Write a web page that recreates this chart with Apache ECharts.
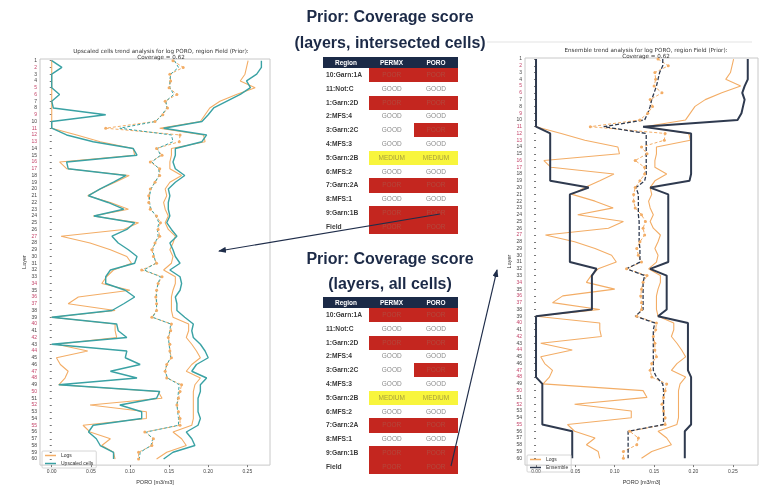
<!DOCTYPE html>
<html>
<head>
<meta charset="utf-8">
<script src="https://cdn.jsdelivr.net/npm/echarts@6/dist/echarts.min.js"></script>
<style>
html, body { margin: 0; padding: 0; background: #fff; }
#wrap { position: relative; width: 771px; height: 490px; overflow: hidden; font-family: "Liberation Sans", Arial, sans-serif; }
#chart { position: absolute; left: 0; top: 0; width: 771px; height: 490px; }
.big { position: absolute; left: 240px; width: 300px; text-align: center; font-size: 16px; font-weight: bold; color: #1c2a47; line-height: 18px; white-space: nowrap; }
.hd { position: absolute; background: #1b2a47; }
.hdt { position: absolute; color: #fff; font-weight: bold; font-size: 6.5px; text-align: center; line-height: 11px; height: 11px; }
.reg { position: absolute; font-weight: bold; font-size: 6.7px; color: #3a3a3a; line-height: 13.8px; height: 13.8px; white-space: nowrap; }
.cell { position: absolute; font-size: 6.5px; text-align: center; line-height: 13.8px; height: 13.8px; color: #8c8c8c; }
svg { position: absolute; left: 0; top: 0; }
</style>
</head>
<body>
<div id="wrap">
  <div id="chart"></div>
  <div class="big" style="top:8px">Prior: Coverage score</div>
  <div class="big" style="top:34px">(layers, intersected cells)</div>
  <div class="big" style="top:250px">Prior: Coverage score</div>
  <div class="big" style="top:275px">(layers, all cells)</div>
  <div id="tables"></div>
  <svg width="771" height="490">
    <defs>
      <marker id="ah" markerWidth="8" markerHeight="6" refX="7" refY="3" orient="auto" markerUnits="userSpaceOnUse">
        <path d="M0,0 L8,3 L0,6 z" fill="#1f2d4a"/>
      </marker>
    </defs>
    <line x1="487" y1="42" x2="752" y2="42" stroke="#dcdcdc" stroke-width="0.8"/>
    <line x1="440" y1="214" x2="219" y2="251" stroke="#1f2d4a" stroke-width="1.1" marker-end="url(#ah)"/>
    <line x1="451" y1="466" x2="497" y2="270" stroke="#1f2d4a" stroke-width="1.1" marker-end="url(#ah)"/>
  </svg>
</div>
<script>
// layers 1..60 (y axis), top to bottom
const layers = [1, 2, 3, 4, 5, 6, 7, 8, 9, 10, 11, 12, 13, 14, 15, 16, 17, 18, 19, 20,
  21, 22, 23, 24, 25, 26, 27, 28, 29, 30, 31, 32, 33, 34, 35, 36, 37, 38, 39, 40,
  41, 42, 43, 44, 45, 46, 47, 48, 49, 50, 51, 52, 53, 54, 55, 56, 57, 58, 59, 60]
const redLayers = [2, 5, 6, 9, 11, 12, 13, 16, 17, 27, 34, 36, 37, 40, 42, 44, 47, 48, 50, 52, 55]
const xTicks = [0, 0.05, 0.1, 0.15, 0.2, 0.25]

const logsMin = [0.000, 0.000, 0.000, 0.000, 0.000, 0.000, 0.000, 0.000, 0.000, 0.000,
  0.000, 0.032, 0.062, 0.104, 0.106, 0.010, 0.019, 0.099, 0.081, 0.062,
  0.046, 0.075, 0.098, 0.053, 0.111, 0.092, 0.012, 0.049, 0.075, 0.096,
  0.102, 0.079, 0.070, 0.064, 0.100, 0.034, 0.021, 0.081, 0.000, 0.081,
  0.081, 0.083, 0.006, 0.046, 0.006, 0.011, 0.021, 0.017, 0.009, 0.136,
  0.141, 0.049, 0.121, 0.121, 0.040, 0.049, 0.075, 0.064, 0.079, 0.081]
const logsMax = [0.251, 0.249, 0.247, 0.241, 0.260, 0.236, 0.215, 0.202, 0.196, 0.190,
  0.138, 0.194, 0.196, 0.153, 0.153, 0.151, 0.151, 0.166, 0.151, 0.145,
  0.147, 0.143, 0.145, 0.149, 0.145, 0.149, 0.158, 0.155, 0.151, 0.155,
  0.153, 0.143, 0.158, 0.158, 0.155, 0.153, 0.153, 0.153, 0.155, 0.175,
  0.175, 0.172, 0.179, 0.185, 0.190, 0.179, 0.172, 0.190, 0.183, 0.181,
  0.181, 0.181, 0.181, 0.181, 0.179, 0.155, 0.166, 0.172, 0.147, 0.134]
const logsMean = [0.155, 0.168, 0.151, 0.152, 0.150, 0.160, 0.145, 0.148, 0.142, 0.132,
  0.069, 0.164, 0.163, 0.134, 0.141, 0.126, 0.138, 0.138, 0.132, 0.126,
  0.124, 0.124, 0.126, 0.134, 0.139, 0.136, 0.138, 0.132, 0.128, 0.130,
  0.134, 0.115, 0.141, 0.136, 0.134, 0.133, 0.134, 0.134, 0.128, 0.153,
  0.152, 0.149, 0.151, 0.151, 0.153, 0.147, 0.145, 0.147, 0.166, 0.164,
  0.162, 0.160, 0.162, 0.164, 0.164, 0.119, 0.130, 0.128, 0.111, 0.111]

const upMin = [0.000, 0.013, 0.000, 0.000, 0.000, 0.010, 0.000, 0.002, 0.069, 0.000,
  0.000, 0.019, 0.053, 0.104, 0.109, 0.019, 0.021, 0.095, 0.079, 0.062,
  0.047, 0.072, 0.092, 0.054, 0.106, 0.096, 0.077, 0.085, 0.098, 0.109,
  0.106, 0.075, 0.069, 0.069, 0.094, 0.106, 0.092, 0.077, 0.000, 0.083,
  0.085, 0.096, 0.000, 0.096, 0.094, 0.113, 0.075, 0.109, 0.009, 0.138,
  0.134, 0.087, 0.115, 0.115, 0.053, 0.047, 0.057, 0.062, 0.079, 0.079]
const upMax = [0.268, 0.268, 0.262, 0.249, 0.254, 0.241, 0.224, 0.207, 0.200, 0.192,
  0.143, 0.198, 0.192, 0.158, 0.158, 0.155, 0.158, 0.170, 0.158, 0.149,
  0.151, 0.149, 0.149, 0.151, 0.147, 0.153, 0.160, 0.151, 0.155, 0.158,
  0.164, 0.151, 0.164, 0.166, 0.164, 0.158, 0.160, 0.160, 0.170, 0.181,
  0.179, 0.181, 0.190, 0.196, 0.200, 0.185, 0.179, 0.198, 0.190, 0.190,
  0.187, 0.187, 0.187, 0.190, 0.187, 0.172, 0.179, 0.183, 0.155, 0.143]
const upMean = [0.157, 0.162, 0.152, 0.151, 0.151, 0.156, 0.146, 0.147, 0.141, 0.133,
  0.087, 0.153, 0.155, 0.135, 0.139, 0.128, 0.137, 0.137, 0.132, 0.127,
  0.125, 0.125, 0.127, 0.133, 0.137, 0.135, 0.136, 0.132, 0.129, 0.131,
  0.133, 0.118, 0.139, 0.136, 0.134, 0.134, 0.134, 0.134, 0.129, 0.152,
  0.151, 0.149, 0.150, 0.151, 0.152, 0.147, 0.145, 0.148, 0.163, 0.162,
  0.161, 0.160, 0.161, 0.162, 0.162, 0.121, 0.129, 0.127, 0.113, 0.112]

const ensMin = [0, 0, 0, 0, 0, 0, 0, 0, 0, 0,
  0, 0.018, 0.018, 0.018, 0.018, 0.018, 0.018, 0.018, 0.018, 0.067,
  0.043, 0.043, 0.043, 0.043, 0.043, 0.043, 0.043, 0.043, 0.043, 0.043,
  0.043, 0.077, 0.071, 0.071, 0.071, 0.071, 0.071, 0.071, 0, 0,
  0, 0, 0, 0, 0, 0, 0, 0, 0.008, 0.008,
  0.008, 0.008, 0.008, 0.008, 0.008, 0.046, 0.046, 0.046, 0.046, 0.046]
const ensMax = [0.269, 0.269, 0.269, 0.269, 0.265, 0.262, 0.265, 0.263, 0.261, 0.256,
  0.136, 0.197, 0.197, 0.197, 0.197, 0.197, 0.197, 0.197, 0.195, 0.145,
  0.168, 0.168, 0.168, 0.168, 0.168, 0.168, 0.168, 0.168, 0.168, 0.168,
  0.168, 0.145, 0.166, 0.166, 0.166, 0.166, 0.166, 0.166, 0.155, 0.193,
  0.193, 0.193, 0.193, 0.193, 0.193, 0.193, 0.193, 0.197, 0.197, 0.197,
  0.197, 0.197, 0.197, 0.197, 0.197, 0.189, 0.189, 0.189, 0.189, 0.189]
const ensMean = [0.161, 0.161, 0.157, 0.155, 0.153, 0.150, 0.147, 0.145, 0.142, 0.138,
  0.086, 0.140, 0.140, 0.140, 0.140, 0.140, 0.140, 0.140, 0.138, 0.127,
  0.130, 0.130, 0.130, 0.130, 0.131, 0.131, 0.131, 0.131, 0.132, 0.132,
  0.132, 0.115, 0.138, 0.136, 0.136, 0.136, 0.136, 0.136, 0.126, 0.151,
  0.149, 0.149, 0.149, 0.149, 0.149, 0.149, 0.149, 0.153, 0.161, 0.162,
  0.162, 0.162, 0.162, 0.162, 0.162, 0.117, 0.117, 0.117, 0.117, 0.117]

// coverage tables
const regions = ['10:Garn:1A', '11:Not:C', '1:Garn:2D', '2:MFS:4', '3:Garn:2C', '4:MFS:3',
  '5:Garn:2B', '6:MFS:2', '7:Garn:2A', '8:MFS:1', '9:Garn:1B', 'Field']
const permxIntersected = ['POOR', 'GOOD', 'POOR', 'GOOD', 'GOOD', 'GOOD', 'MEDIUM', 'GOOD', 'POOR', 'GOOD', 'POOR', 'POOR']
const poroIntersected = ['POOR', 'GOOD', 'POOR', 'GOOD', 'POOR', 'GOOD', 'MEDIUM', 'GOOD', 'POOR', 'GOOD', 'POOR', 'POOR']
const permxAll = ['POOR', 'GOOD', 'POOR', 'GOOD', 'GOOD', 'GOOD', 'MEDIUM', 'GOOD', 'POOR', 'GOOD', 'POOR', 'POOR']
const poroAll = ['POOR', 'GOOD', 'POOR', 'GOOD', 'POOR', 'GOOD', 'MEDIUM', 'GOOD', 'POOR', 'GOOD', 'POOR', 'POOR']

const ORANGE = '#f3ad66'
const TEAL = '#3aa2a4'
const NAVY = '#2f3a4f'

const scoreStyle = {
    POOR: { bg: '#c4261f', color: '#b3493d' },
    MEDIUM: { bg: '#f8f53c', color: '#a79f3a' },
    GOOD: { bg: 'transparent', color: '#8c8c8c' }
}

function buildTable(top, permx, poro) {
    const box = document.getElementById('tables')
    let html = '<div class="hd" style="left:323px;top:' + top + 'px;width:135px;height:11px"></div>'
    html += '<div class="hdt" style="left:323px;top:' + top + 'px;width:46px">Region</div>'
    html += '<div class="hdt" style="left:369px;top:' + top + 'px;width:45px">PERMX</div>'
    html += '<div class="hdt" style="left:414px;top:' + top + 'px;width:44px">PORO</div>'
    regions.forEach((r, i) => {
        const y = top + 11 + i * 13.8
        html += '<div class="reg" style="left:326px;top:' + y + 'px">' + r + '</div>'
        const a = scoreStyle[permx[i]], b = scoreStyle[poro[i]]
        html += '<div class="cell" style="left:369px;width:45.5px;top:' + y + 'px;height:14.2px;background:' + a.bg + ';color:' + a.color + '">' + permx[i] + '</div>'
        html += '<div class="cell" style="left:414px;width:44px;top:' + y + 'px;height:14.2px;background:' + b.bg + ';color:' + b.color + '">' + poro[i] + '</div>'
    })
    box.insertAdjacentHTML('beforeend', html)
}
buildTable(57, permxIntersected, poroIntersected)
buildTable(297, permxAll, poroAll)

function pts(vals) {
    return vals.map((v, i) => [v, layers[i]])
}

function xAxisFor(gridIndex, min, max) {
    return {
        type: 'value', gridIndex, min, max, position: 'bottom',
        name: 'PORO [m3/m3]', nameLocation: 'middle', nameGap: 11,
        nameTextStyle: { fontSize: 5.5, color: '#333' },
        axisLine: { show: false },
        splitLine: { show: false },
        axisTick: { show: true, length: 2, lineStyle: { color: '#777' }, customValues: xTicks },
        axisLabel: { fontSize: 5, color: '#444', margin: 4, customValues: xTicks, formatter: v => v.toFixed(2) }
    }
}

function yAxisFor(gridIndex, min, max, gap) {
    return {
        type: 'value', gridIndex, min, max, inverse: true,
        name: 'Layer', nameLocation: 'middle', nameGap: gap,
        nameTextStyle: { fontSize: 5.5, color: '#333' },
        axisLine: { show: false },
        splitLine: { show: false },
        axisTick: { show: true, length: 2, lineStyle: { color: '#777' }, customValues: layers },
        axisLabel: {
            margin: 3, customValues: layers,
            formatter: v => (redLayers.includes(v) ? '{r|' : '{k|') + v + '}',
            rich: { r: { fontSize: 5, color: '#c4456a' }, k: { fontSize: 5, color: '#444' } }
        }
    }
}

function line(name, vals, idx, color, width, extra) {
    return Object.assign({
        name, type: 'line', xAxisIndex: idx, yAxisIndex: idx,
        data: pts(vals), showSymbol: false, symbol: 'none',
        lineStyle: { color, width }, itemStyle: { color },
        silent: true, z: 2
    }, extra || {})
}

const meanDots = { symbol: 'circle', showSymbol: true, symbolSize: 3 }

const chart = echarts.init(document.getElementById('chart'), null, { renderer: 'canvas' })
chart.setOption({
    animation: false,
    backgroundColor: 'transparent',
    title: [
        {
            text: 'Upscaled cells trend analysis for log PORO, region Field (Prior):\nCoverage = 0.62',
            left: 156, top: 43, textAlign: 'center',
            textStyle: { fontSize: 5.6, fontWeight: 'normal', color: '#333', lineHeight: 6.2, fontFamily: 'DejaVu Sans' }
        },
        {
            text: 'Ensemble trend analysis for log PORO, region Field (Prior):\nCoverage = 0.62',
            left: 641, top: 42, textAlign: 'center',
            textStyle: { fontSize: 5.6, fontWeight: 'normal', color: '#333', lineHeight: 6.2, fontFamily: 'DejaVu Sans' }
        }
    ],
    grid: [
        { left: 40, top: 59, width: 230, height: 408, show: true, borderColor: '#c8c8c8', borderWidth: 1 },
        { left: 525, top: 58, width: 233, height: 414, show: true, borderColor: '#c8c8c8', borderWidth: 1 }
    ],
    xAxis: [xAxisFor(0, -0.015, 0.279), xAxisFor(1, -0.014, 0.282)],
    yAxis: [yAxisFor(0, 0.75, 60.9, 12), yAxisFor(1, 0.85, 61.0, 13)],
    legend: [
        {
            data: ['Logs', 'Upscaled cells'], left: 42, top: 451, orient: 'vertical',
            icon: 'rect', itemWidth: 11, itemHeight: 1.5, itemGap: 3, padding: [2, 3],
            borderColor: '#ccc', borderWidth: 0.8, borderRadius: 1, selectedMode: false,
            textStyle: { fontSize: 5, color: '#333' }
        },
        {
            data: ['Logs', 'Ensemble'], left: 527, top: 455, orient: 'vertical',
            icon: 'rect', itemWidth: 11, itemHeight: 1.5, itemGap: 3, padding: [2, 3],
            borderColor: '#ccc', borderWidth: 0.8, borderRadius: 1, selectedMode: false,
            textStyle: { fontSize: 5, color: '#333' }
        }
    ],
    series: [
        // left: logs vs upscaled cells
        line('Logs', logsMin, 0, ORANGE, 1.1),
        line('Logs max', logsMax, 0, ORANGE, 1.1),
        line('Logs mean', logsMean, 0, ORANGE, 1, Object.assign({ lineStyle: { color: ORANGE, width: 1, type: [3, 2] } }, meanDots)),
        line('Upscaled cells', upMin, 0, TEAL, 1.4),
        line('Upscaled max', upMax, 0, TEAL, 1.4),
        line('Upscaled mean', upMean, 0, TEAL, 1, { lineStyle: { color: TEAL, width: 1, type: [3, 2] } }),
        // right: logs vs ensemble
        line('Logs', logsMin, 1, ORANGE, 1.1),
        line('Logs max r', logsMax, 1, ORANGE, 1.1),
        line('Logs mean r', logsMean, 1, ORANGE, 1, Object.assign({ lineStyle: { color: ORANGE, width: 1, type: [3, 2] } }, meanDots)),
        line('Ensemble', ensMin, 1, NAVY, 2),
        line('Ensemble max', ensMax, 1, NAVY, 2),
        line('Ensemble mean', ensMean, 1, NAVY, 1.3, { lineStyle: { color: NAVY, width: 1.3, type: [4, 2] } })
    ]
})
</script>
</body>
</html>
